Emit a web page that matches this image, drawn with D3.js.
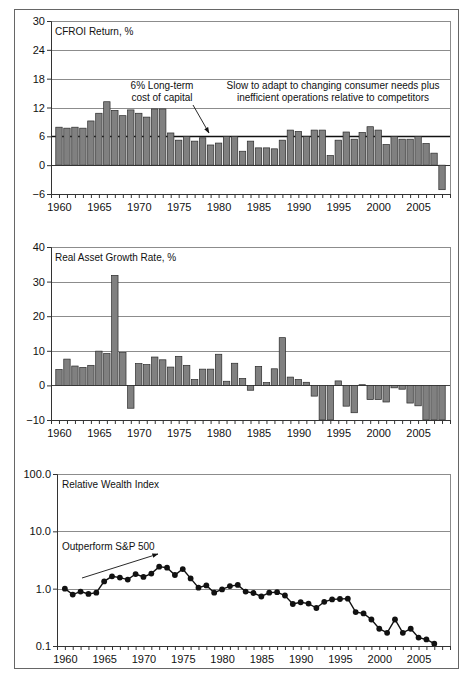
<!DOCTYPE html>
<html><head><meta charset="utf-8">
<script src="https://cdn.jsdelivr.net/npm/d3@7"></script>
<style>
body{margin:0;background:#fff;}
text{font-family:"Liberation Sans",Arial,Helvetica,sans-serif;fill:#111;}
</style>
</head><body><svg id="c" width="474" height="674"></svg>
<script>
const years = d3.range(1960, 2009);
const cfroi = [7.9,7.7,7.9,7.7,9.2,10.8,13.2,11.4,10.3,11.5,
               10.8,10.0,11.7,11.7,6.7,5.2,6.0,5.0,5.7,4.2,
               4.6,6.0,6.0,2.9,5.0,3.6,3.6,3.4,5.2,7.3,
               7.0,6.0,7.3,7.3,2.0,5.2,6.9,5.4,6.8,8.0,
               7.3,4.3,6.0,5.4,5.4,6.0,4.5,2.5,-5.1];
const growth = [4.6,7.6,5.6,5.2,5.8,9.9,9.2,31.8,9.5,-6.6,
                6.3,6.0,8.2,7.4,5.3,8.4,5.8,1.7,4.7,4.7,
                9.0,1.2,6.4,2.0,-1.4,5.5,0.8,4.8,13.8,2.4,
                1.7,0.9,-3.1,-10,-10,1.3,-6.0,-7.9,0.2,-4.1,
                -4.1,-4.8,-0.7,-1.1,-5.1,-5.9,-10,-10,-10];
const wealthYears = d3.range(1960, 2008);
const wealth = [1.0,0.79,0.89,0.81,0.85,1.34,1.64,1.56,1.44,1.80,
                1.60,1.83,2.42,2.32,1.73,2.20,1.51,1.04,1.14,0.85,
                0.97,1.11,1.16,0.89,0.84,0.73,0.85,0.87,0.76,0.54,
                0.58,0.55,0.46,0.59,0.65,0.66,0.67,0.39,0.37,0.29,
                0.20,0.17,0.29,0.17,0.20,0.14,0.13,0.11];
const cfroiTicks = [-6,0,6,12,18,24,30];
const growthTicks = [-10,0,10,20,30,40];
const wealthTicks = [0.1,1,10,100];
const yearLabels = [1960,1965,1970,1975,1980,1985,1990,1995,2000,2005];
const costOfCapital = 6;

const svg = d3.select("#c");
const GRID = "#8c8c8c", AXIS = "#333", BAR = "#808080";

svg.append("defs").append("marker")
  .attr("id","ah").attr("viewBox","0 0 10 10").attr("refX",9).attr("refY",5)
  .attr("markerWidth",7).attr("markerHeight",7).attr("orient","auto")
  .append("path").attr("d","M0,1.5L10,5L0,8.5Z").attr("fill","#111");

// outer frame
svg.append("rect").attr("x",14.5).attr("y",9.5).attr("width",444).attr("height",659)
  .attr("fill","none").attr("stroke","#666").attr("stroke-width",1);

function panel(cfg){
  const g = svg.append("g");
  const x = d3.scaleLinear().domain([1959,2009]).range([cfg.left, 450]);
  const y = cfg.y;
  const [y0,y1] = y.range();
  // gridlines
  g.selectAll(".grid").data(cfg.grid).join("line")
    .attr("x1",cfg.left).attr("x2",450)
    .attr("y1",d=>Math.round(y(d))+0.5).attr("y2",d=>Math.round(y(d))+0.5)
    .attr("stroke",GRID).attr("stroke-width",1);
  // right border
  g.append("line").attr("x1",450.5).attr("x2",450.5).attr("y1",y1).attr("y2",y0)
    .attr("stroke",GRID);
  cfg.extra && cfg.extra(g,x,y);
  // left axis
  const ay = g.append("g").attr("transform",`translate(${cfg.left},0)`)
    .call(d3.axisLeft(y).tickValues(cfg.ticks).tickSize(4).tickFormat(cfg.fmt));
  ay.select(".domain").attr("stroke",AXIS);
  ay.selectAll(".tick line").attr("stroke",AXIS);
  ay.selectAll("text").style("font-size","11px").attr("x",-6);
  // bottom axis
  const ax = g.append("g").attr("transform",`translate(0,${y0})`)
    .call(d3.axisBottom(x).tickValues(d3.range(1959,2010)).tickSize(4)
      .tickFormat(d=>yearLabels.includes(d)?String(d):""));
  ax.select(".domain").attr("stroke",AXIS).attr("d",`M${cfg.left},0.5H450`);
  ax.selectAll(".tick line").attr("stroke",AXIS);
  ax.selectAll("text").style("font-size","11px").attr("dy","0.9em");
  // title
  g.append("text").attr("x",cfg.titleX).attr("y",y1+14).style("font-size","10px").text(cfg.title);
  return {g,x,y};
}

// ---- Panel 1: CFROI
const y1s = d3.scaleLinear().domain([-6,30]).range([194,21]);
panel({left:51, y:y1s, ticks:cfroiTicks, grid:[12,18,24,30], title:"CFROI Return, %", titleX:55,
  fmt:d=>d<0?"\u2212"+Math.abs(d):d,
  extra:(g,x,y)=>{
    g.append("line").attr("x1",51).attr("x2",450).attr("y1",Math.round(y(costOfCapital))+0.5)
      .attr("y2",Math.round(y(costOfCapital))+0.5).attr("stroke","#111").attr("stroke-width",1.3);
    g.append("line").attr("x1",51).attr("x2",450).attr("y1",Math.round(y(0))+0.5)
      .attr("y2",Math.round(y(0))+0.5).attr("stroke","#333");
    g.selectAll(".bar").data(years).join("rect")
      .attr("x",d=>x(d)-3.2).attr("width",6.4)
      .attr("y",(d,i)=>y(Math.max(0,cfroi[i]))).attr("height",(d,i)=>Math.abs(y(cfroi[i])-y(0)))
      .attr("fill",BAR).attr("stroke","#2a2a2a").attr("stroke-width",0.7);
    const t = g.append("g").style("font-size","10px").attr("text-anchor","middle");
    t.append("text").attr("x",162).attr("y",89).text("6% Long-term");
    t.append("text").attr("x",162).attr("y",101).text("cost of capital");
    t.append("text").attr("x",333).attr("y",89).text("Slow to adapt to changing consumer needs plus");
    t.append("text").attr("x",333).attr("y",101).text("inefficient operations relative to competitors");
    g.append("line").attr("x1",193).attr("y1",105).attr("x2",209).attr("y2",133)
      .attr("stroke","#111").attr("stroke-width",0.9).attr("marker-end","url(#ah)");
  }});

// ---- Panel 2: Real asset growth
const y2s = d3.scaleLinear().domain([-10,40]).range([420,247]);
panel({left:51, y:y2s, ticks:growthTicks, grid:[10,20,30,40], title:"Real Asset Growth Rate, %", titleX:55,
  fmt:d=>d<0?"\u2212"+Math.abs(d):d,
  extra:(g,x,y)=>{
    g.append("line").attr("x1",51).attr("x2",450).attr("y1",Math.round(y(0))+0.5)
      .attr("y2",Math.round(y(0))+0.5).attr("stroke","#444");
    g.selectAll(".bar").data(years).join("rect")
      .attr("x",d=>x(d)-3.2).attr("width",6.4)
      .attr("y",(d,i)=>y(Math.max(0,growth[i]))).attr("height",(d,i)=>Math.abs(y(growth[i])-y(0)))
      .attr("fill",BAR).attr("stroke","#2a2a2a").attr("stroke-width",0.7);
  }});

// ---- Panel 3: Relative wealth index (log)
const y3s = d3.scaleLog().domain([0.1,100]).range([646,474]);
panel({left:57, y:y3s, ticks:wealthTicks, grid:[1,10,100], title:"Relative Wealth Index", titleX:62,
  fmt:d3.format(".1f"),
  extra:(g,x,y)=>{
    const line = d3.line().x((d,i)=>x(wealthYears[i])).y(d=>y(d));
    g.append("path").datum(wealth).attr("d",line).attr("fill","none")
      .attr("stroke","#111").attr("stroke-width",1.4);
    g.selectAll(".pt").data(wealth).join("circle")
      .attr("cx",(d,i)=>x(wealthYears[i])).attr("cy",d=>y(d)).attr("r",2.9).attr("fill","#111");
    g.append("text").attr("x",62).attr("y",550).style("font-size","10px").text("Outperform S&P 500");
    g.append("line").attr("x1",82).attr("y1",578).attr("x2",158).attr("y2",554)
      .attr("stroke","#111").attr("stroke-width",0.9).attr("marker-end","url(#ah)");
  }});
</script></body></html>
